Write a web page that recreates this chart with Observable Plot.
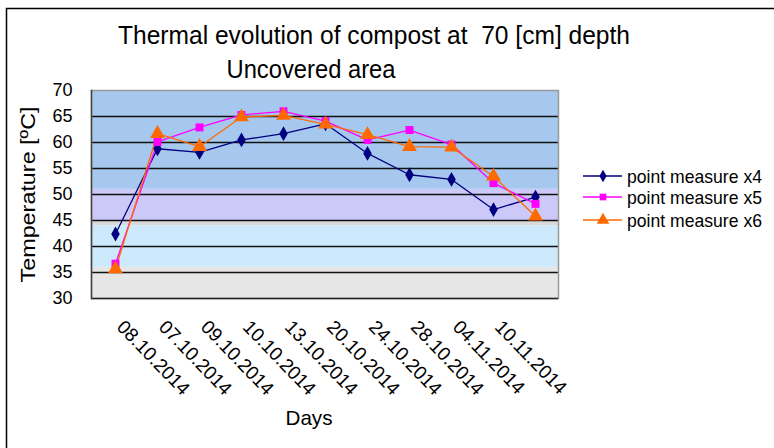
<!DOCTYPE html>
<html><head><meta charset="utf-8">
<script src="https://cdn.jsdelivr.net/npm/d3@7"></script>
<script src="https://cdn.jsdelivr.net/npm/@observablehq/plot@0.6"></script>
<style>
body{margin:0;background:#fff;overflow:hidden;}
#chart svg{display:block;}
</style>
</head><body><div id="chart"></div>
<script>
// ---- data ----
const dayIndex = [0,1,2,3,4,5,6,7,8,9,10];
const dayLabels = ["08.10.2014","07.10.2014","09.10.2014","10.10.2014","13.10.2014","20.10.2014","24.10.2014","28.10.2014","04.11.2014","10.11.2014"];
const seriesNames = ["point measure x4","point measure x5","point measure x6"];
const x4 = [42.4,58.8,58.1,60.5,61.7,63.6,57.9,53.8,52.9,47.1,49.5];
const x5 = [36.7,60.1,62.9,65.3,66.0,64.1,60.5,62.4,59.6,52.2,48.2];
const x6 = [35.7,61.7,59.2,64.9,65.2,63.5,61.5,59.2,59.1,53.5,45.8];
const yTicks = [30,35,40,45,50,55,60,65,70];
const gridValues = [35,40,45,50,55,60,65];
const bandFrom = [30,36,44,45,51];
const bandTo   = [36,44,45,51,70];
const titleText = "Thermal evolution of compost at  70 [cm] depth";
const subtitleText = "Uncovered area";
const yLabel = "Temperature [ºC]";
const xLabel = "Days";

// ---- styles ----
const bandColors = ["#e6e6e6","#cdeafc","#dadada","#ccc8f8","#a6c8ee"];
const seriesColors = ["#000080","#ff00ff","#ff6a00"];
const seriesSymbols = ["diamond","square","triangle"];
const seriesR = [4.5,4.5,5.5];
const font = "'Liberation Sans', Arial, sans-serif";

const bands = bandFrom.map((v,i)=>({y1:v, y2:bandTo[i], fill:bandColors[i]}));
const seriesValues = [x4,x5,x6];
const seriesData = seriesNames.map((name,s)=>dayIndex.map(i=>({day:i, value:seriesValues[s][i], series:name})));
const labelData = dayLabels.map((t,i)=>({day:dayIndex[i], text:t}));

const plot = Plot.plot({
  width: 774, height: 448,
  marginTop: 90, marginBottom: 150, marginLeft: 91, marginRight: 216,
  style: {fontFamily: font, background: "white", color: "black", overflow: "visible"},
  x: {type: "point", domain: dayIndex, padding: 0.5, axis: null},
  y: {domain: [30,70], axis: null},
  marks: [
    Plot.rect(bands, {y1: "y1", y2: "y2", fill: "fill"}),
    Plot.ruleY(gridValues, {stroke: "#111", strokeWidth: 1.6}),
    Plot.frame({stroke: "#999", strokeWidth: 1.5}),
    Plot.ruleY([30], {stroke: "#222", strokeWidth: 1.6}),
    Plot.frame({anchor: "left", stroke: "#444", strokeWidth: 1.5}),
    ...seriesData.map((d,s)=>Plot.line(d, {x: "day", y: "value", stroke: seriesColors[s], strokeWidth: 1.3})),
    ...seriesData.map((d,s)=>Plot.dot(d, {x: "day", y: "value", fill: seriesColors[s], symbol: seriesSymbols[s], r: seriesR[s], stroke: "none"})),
    Plot.axisY({ticks: yTicks, tickSize: 0, tickPadding: 19, fontSize: 18, label: null, tickFormat: d => String(d)}),
    Plot.text([yLabel], {frameAnchor: "left", textAnchor: "middle", rotate: -90, dx: -63, fontSize: 21, fill: "black"}),
    Plot.text(labelData, {x: "day", text: "text", frameAnchor: "bottom", rotate: 46, textAnchor: "start", lineAnchor: "top", dx: 10, dy: 20, fontSize: 19, fill: "black"}),
    Plot.text([xLabel], {frameAnchor: "bottom", dx: -16, dy: 126, fontSize: 21, fill: "black"})
  ]
});

const svg = d3.select(plot);
// stretch a few texts to the widths seen in the reference
svg.selectAll("text").each(function() {
  const t = this.textContent;
  if (t === yLabel) d3.select(this).attr("textLength", 176).attr("lengthAdjust", "spacingAndGlyphs");
  if (t === xLabel) d3.select(this).attr("textLength", 47).attr("lengthAdjust", "spacingAndGlyphs");
});
svg.insert("rect", ":first-child").attr("x", 6.5).attr("y", 8.5).attr("width", 900).attr("height", 600)
  .attr("fill", "none").attr("stroke", "#000").attr("stroke-width", 1.5);
svg.append("text").attr("x", 374).attr("y", 44).attr("text-anchor", "middle")
  .attr("font-size", 26).attr("font-family", font).attr("fill", "#000")
  .attr("textLength", 512).attr("lengthAdjust", "spacingAndGlyphs").text(titleText);
svg.append("text").attr("x", 311).attr("y", 78).attr("text-anchor", "middle")
  .attr("font-size", 26).attr("font-family", font).attr("fill", "#000")
  .attr("textLength", 169).attr("lengthAdjust", "spacingAndGlyphs").text(subtitleText);

const legendRows = [176, 197, 220];
const leg = svg.append("g").attr("text-anchor", "start");
seriesNames.forEach((name, s) => {
  const y = legendRows[s];
  leg.append("line").attr("x1", 583).attr("x2", 622).attr("y1", y).attr("y2", y)
    .attr("stroke", seriesColors[s]).attr("stroke-width", 1.5);
  leg.append("path").attr("transform", `translate(603,${y})`)
    .attr("d", d3.symbol(s===0 ? d3.symbolDiamond : s===1 ? d3.symbolSquare : d3.symbolTriangle, s===2 ? 70 : 45)())
    .attr("fill", seriesColors[s]);
  leg.append("text").attr("x", 627).attr("y", y).attr("dy", "0.35em").attr("text-anchor", "start")
    .attr("font-size", 19).attr("font-family", font).attr("fill", "#000")
    .attr("textLength", 135).attr("lengthAdjust", "spacingAndGlyphs").text(name);
});

document.getElementById("chart").appendChild(plot);
</script>
</body></html>
